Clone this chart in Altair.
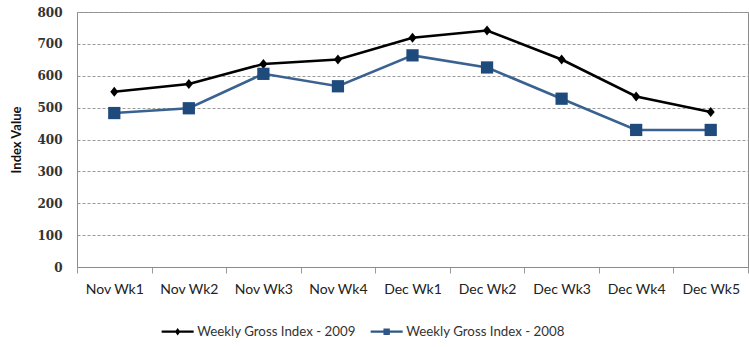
import altair as alt
import pandas as pd

# Weekly gross index, November through December
weeks = ["Nov Wk1", "Nov Wk2", "Nov Wk3", "Nov Wk4", "Dec Wk1",
         "Dec Wk2", "Dec Wk3", "Dec Wk4", "Dec Wk5"]
index_2009 = [550, 574, 637, 651, 719, 742, 651, 535, 486]
index_2008 = [483, 498, 606, 567, 664, 626, 528, 430, 430]

series_names = ["Weekly Gross Index - 2009", "Weekly Gross Index - 2008"]
line_colors = ["#000000", "#3a6290"]
marker_colors = ["#000000", "#1f4a7c"]

rows = []
for name, values in zip(series_names, [index_2009, index_2008]):
    for w, v in zip(weeks, values):
        rows.append({"week": w, "value": v, "series": name})
df = pd.DataFrame(rows)

x_enc = alt.X(
    "week:N",
    sort=weeks,
    scale=alt.Scale(paddingInner=0, paddingOuter=0),
    axis=alt.Axis(
        title=None,
        labelAngle=0,
        tickBand="extent",
        tickSize=6,
        tickColor="#9a9a9a",
        domainColor="#8c8c8c",
        labelPadding=9,
        labelFont="Lato",
        labelFontSize=14,
        labelColor="#222222",
        grid=False,
    ),
)
y_enc = alt.Y(
    "value:Q",
    scale=alt.Scale(domain=[0, 800], nice=False),
    axis=alt.Axis(
        title="Index Value",
        titleFont="Lato",
        titleFontSize=13,
        titleFontWeight="bold",
        titleColor="#111111",
        titlePadding=13,
        values=list(range(0, 801, 100)),
        labelFont="DejaVu Serif",
        labelFontSize=12,
        labelFontWeight="bold",
        labelColor="#333333",
        labelPadding=15,
        ticks=False,
        domainColor="#8c8c8c",
        gridColor="#9a9a9a",
        gridDash=[3, 2],
        gridWidth=1,
    ),
)

lines = alt.Chart(df).mark_line(strokeWidth=2.6).encode(
    x=x_enc,
    y=y_enc,
    color=alt.Color("series:N", scale=alt.Scale(domain=series_names, range=line_colors), legend=None),
    detail="series:N",
)

diamond = "M-0.8,0L0,-1L0.8,0L0,1Z"
markers = alt.Chart(df).mark_point(filled=True, opacity=1).encode(
    x=x_enc,
    y=y_enc,
    color=alt.Color("series:N", scale=alt.Scale(domain=series_names, range=marker_colors), legend=None),
    shape=alt.Shape("series:N", scale=alt.Scale(domain=series_names, range=[diamond, "square"]), legend=None),
    size=alt.Size("series:N", scale=alt.Scale(domain=series_names, range=[100, 150]), legend=None),
)

# Legend symbols: a short line segment with the series marker on it
leg_diamond = "M-3,-0.2H3V0.2H-3Z M-0.5,0L0,-0.7L0.5,0L0,0.7Z"
leg_square = "M-3,-0.2H3V0.2H-3Z M-0.6,-0.6H0.6V0.6H-0.6Z"
legend_layer = alt.Chart(df).transform_filter("false").mark_point(filled=True, opacity=1).encode(
    x=x_enc,
    y=y_enc,
    color=alt.Color(
        "series:N",
        scale=alt.Scale(domain=series_names, range=["#000000", "#2f5686"]),
        legend=alt.Legend(
            title=None,
            orient="none",
            direction="horizontal",
            legendX=94,
            legendY=313,
            padding=0,
            symbolSize=114,
            symbolStrokeWidth=0,
            labelOffset=13,
            labelLimit=400,
            columnPadding=14,
            labelFont="Lato",
            labelFontSize=13.3,
            labelColor="#333333",
        ),
    ),
    shape=alt.Shape("series:N", scale=alt.Scale(domain=series_names, range=[leg_diamond, leg_square])),
)

chart = (
    alt.layer(lines, markers, legend_layer)
    .resolve_scale(color="independent", shape="independent")
    .properties(
        width=671,
        height=255,
        autosize=alt.AutoSizeParams(type="none"),
        padding={"left": 77, "top": 12, "right": 1, "bottom": 80},
        background="white",
    )
    .configure_view(stroke="#8c8c8c", strokeWidth=1)
)

chart.save("out.html", embed_options={"renderer": "svg", "actions": False})
